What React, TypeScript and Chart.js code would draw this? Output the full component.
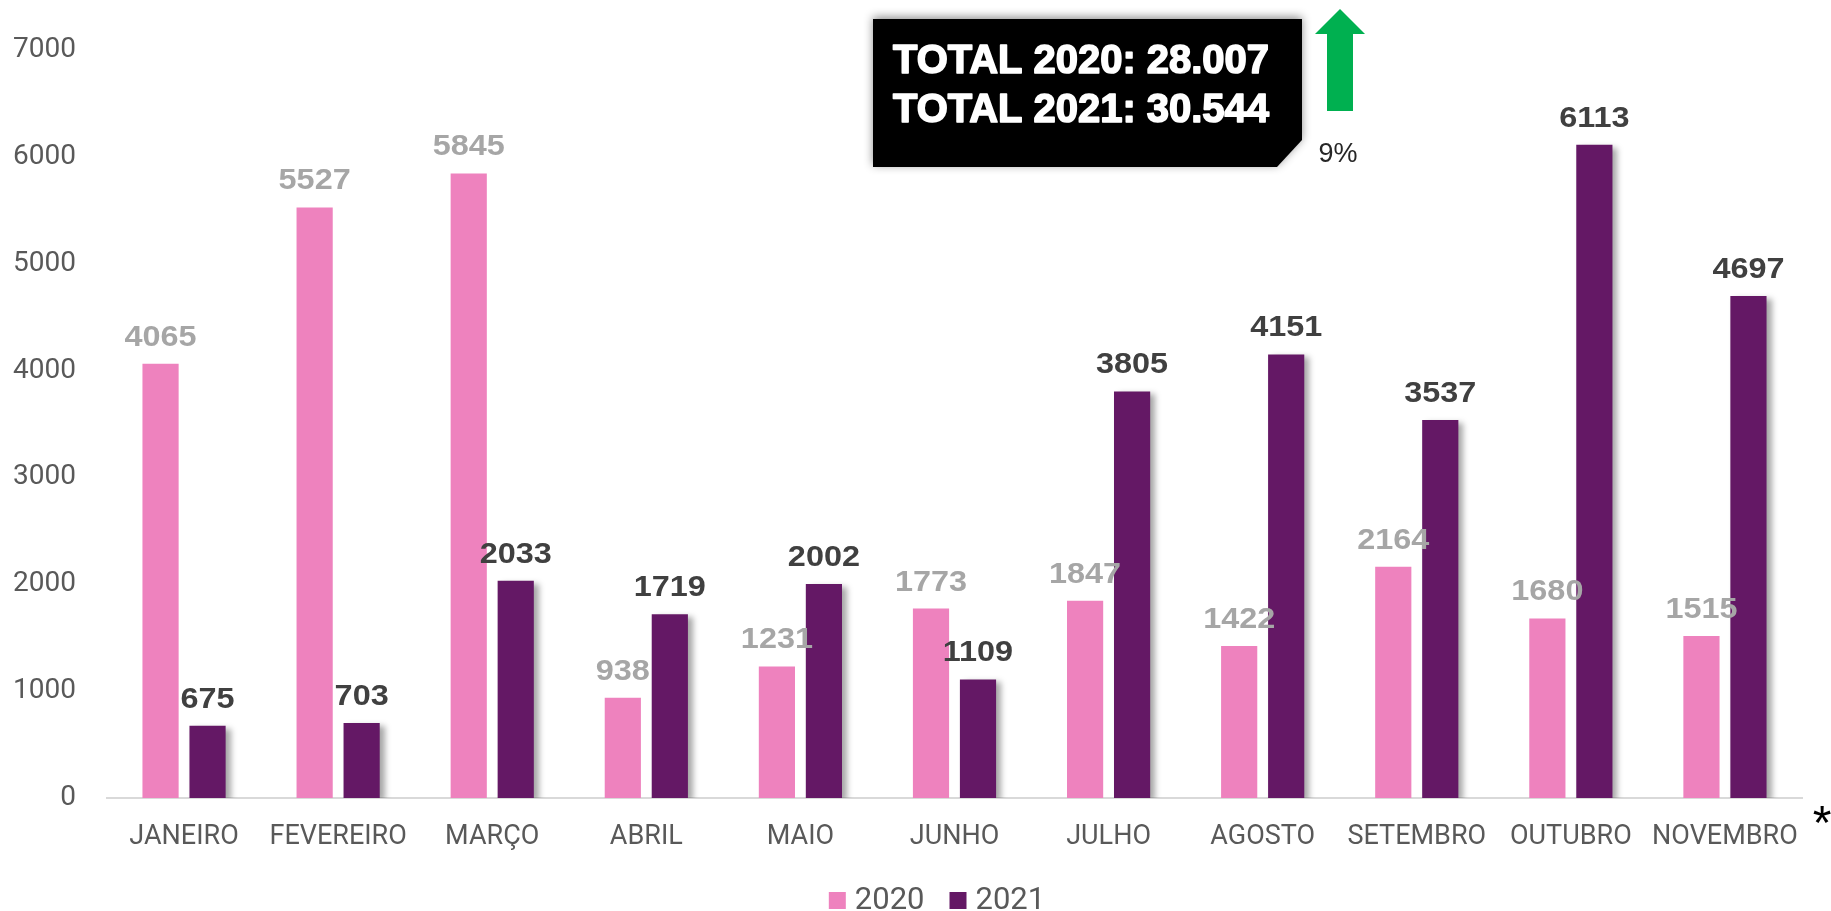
import React, { useEffect, useRef } from "react";
import { Chart, registerables } from "chart.js";

Chart.register(...registerables);

const categories = [
  "JANEIRO", "FEVEREIRO", "MARÇO", "ABRIL", "MAIO", "JUNHO",
  "JULHO", "AGOSTO", "SETEMBRO", "OUTUBRO", "NOVEMBRO",
];
const values2020 = [4065, 5527, 5845, 938, 1231, 1773, 1847, 1422, 2164, 1680, 1515];
const values2021 = [675, 703, 2033, 1719, 2002, 1109, 3805, 4151, 3537, 6113, 4697];
const seriesLabels = ["2020", "2021"];
const yTicks = [0, 1000, 2000, 3000, 4000, 5000, 6000, 7000];

const PINK = "#EE82BE";
const PURPLE = "#641865";

const fmt = (n: number) => String(n).replace(/\B(?=(\d{3})+(?!\d))/g, ".");
const sum = (a: number[]) => a.reduce((x, y) => x + y, 0);

const shadowPlugin = {
  id: "barShadow",
  beforeDatasetDraw(chart: any, args: any) {
    if (args.index !== 1) return;
    const ctx = chart.ctx;
    ctx.save();
    ctx.shadowColor = "rgba(0,0,0,0.35)";
    ctx.shadowBlur = 6;
    ctx.shadowOffsetX = 5;
    ctx.shadowOffsetY = 3;
  },
  afterDatasetDraw(chart: any, args: any) {
    if (args.index !== 1) return;
    chart.ctx.restore();
  },
};

const labelPlugin = {
  id: "valueLabels",
  afterDatasetsDraw(chart: any) {
    const ctx = chart.ctx;
    const colors = ["#A6A6A6", "#404040"];
    chart.data.datasets.forEach((ds: any, di: number) => {
      const meta = chart.getDatasetMeta(di);
      meta.data.forEach((el: any, i: number) => {
        ctx.save();
        ctx.font = "bold 30px 'Liberation Sans', Arial, sans-serif";
        ctx.fillStyle = colors[di];
        ctx.textAlign = "center";
        ctx.textBaseline = "alphabetic";
        ctx.translate(el.x, el.y - 18);
        ctx.scale(1.08, 1);
        ctx.fillText(String(ds.data[i]), 0, 0);
        ctx.restore();
      });
    });
  },
};

const legendPlugin = {
  id: "customLegend",
  afterDraw(chart: any) {
    const ctx = chart.ctx;
    ctx.save();
    ctx.font = "31px Roboto, 'Liberation Sans', sans-serif";
    ctx.textBaseline = "middle";
    ctx.textAlign = "left";
    const box = 17;
    const gap = 9;
    const spacing = 25;
    const items = chart.data.datasets.map((ds: any) => ({
      label: ds.label,
      color: ds.backgroundColor,
      w: ctx.measureText(ds.label).width,
    }));
    const total = items.reduce((s: number, it: any, i: number) => s + box + gap + it.w + (i > 0 ? spacing : 0), 0);
    let x = 937 - total / 2;
    const cy = 900.5;
    items.forEach((it: any) => {
      ctx.fillStyle = it.color;
      ctx.fillRect(x, cy - box / 2, box, box);
      ctx.fillStyle = "#595959";
      ctx.fillText(it.label, x + box + gap, cy + 1);
      x += box + gap + it.w + spacing;
    });
    ctx.restore();
  },
};

const annotationPlugin = {
  id: "totalsBox",
  afterDraw(chart: any) {
    const ctx = chart.ctx;
    const t20 = sum(values2020);
    const t21 = sum(values2021);
    const pct = Math.round((t21 / t20 - 1) * 100);

    ctx.save();
    ctx.shadowColor = "rgba(0,0,0,0.45)";
    ctx.shadowBlur = 10;
    ctx.shadowOffsetX = 0;
    ctx.shadowOffsetY = -2;
    ctx.fillStyle = "#000000";
    ctx.beginPath();
    ctx.moveTo(873, 19);
    ctx.lineTo(1302, 19);
    ctx.lineTo(1302, 140);
    ctx.lineTo(1277, 167);
    ctx.lineTo(873, 167);
    ctx.closePath();
    ctx.fill();
    ctx.restore();

    ctx.save();
    ctx.fillStyle = "#FFFFFF";
    ctx.strokeStyle = "#FFFFFF";
    ctx.lineWidth = 1.6;
    ctx.lineJoin = "round";
    ctx.font = "bold 40px 'Liberation Sans', Arial, sans-serif";
    ctx.textAlign = "left";
    ctx.textBaseline = "alphabetic";
    const l1 = `TOTAL 2020: ${fmt(t20)}`;
    const l2 = `TOTAL 2021: ${fmt(t21)}`;
    ctx.fillText(l1, 893, 73, 376);
    ctx.strokeText(l1, 893, 73, 376);
    ctx.fillText(l2, 893, 122, 376);
    ctx.strokeText(l2, 893, 122, 376);
    ctx.restore();

    ctx.save();
    ctx.fillStyle = "#00B050";
    ctx.beginPath();
    ctx.moveTo(1340, 9);
    ctx.lineTo(1365, 34);
    ctx.lineTo(1353, 34);
    ctx.lineTo(1353, 111);
    ctx.lineTo(1327, 111);
    ctx.lineTo(1327, 34);
    ctx.lineTo(1315, 34);
    ctx.closePath();
    ctx.fill();
    ctx.restore();

    ctx.save();
    ctx.fillStyle = "#262626";
    ctx.font = "27px 'Liberation Sans', Arial, sans-serif";
    ctx.textAlign = "center";
    ctx.textBaseline = "alphabetic";
    ctx.fillText(`${pct}%`, 1338, 162);
    ctx.restore();

    ctx.save();
    ctx.fillStyle = "#000000";
    ctx.font = "48px 'Liberation Sans', Arial, sans-serif";
    ctx.textAlign = "center";
    ctx.textBaseline = "alphabetic";
    ctx.fillText("*", 1822, 839);
    ctx.restore();
  },
};

export default function App() {
  const ref = useRef<HTMLCanvasElement | null>(null);

  useEffect(() => {
    if (!ref.current) return;
    const chart = new Chart(ref.current, {
      type: "bar",
      data: {
        labels: categories,
        datasets: [
          {
            label: seriesLabels[0],
            data: values2020,
            backgroundColor: PINK,
            categoryPercentage: 0.61,
            barPercentage: 0.77,
          },
          {
            label: seriesLabels[1],
            data: values2021,
            backgroundColor: PURPLE,
            categoryPercentage: 0.61,
            barPercentage: 0.77,
          },
        ],
      },
      options: {
        animation: false,
        responsive: false,
        maintainAspectRatio: false,
        layout: { padding: { top: 50, right: 29, bottom: 0, left: 0 } },
        plugins: {
          legend: { display: false },
          tooltip: { enabled: false },
        },
        scales: {
          x: {
            grid: { display: false },
            border: { display: true, color: "#D9D9D9", width: 2 },
            ticks: {
              color: "#595959",
              padding: 15,
              maxRotation: 0,
              autoSkip: false,
              font: { family: "Roboto, 'Liberation Sans', sans-serif", size: 27 },
            },
            afterFit: (scale: any) => {
              scale.height = 113;
            },
          },
          y: {
            min: 0,
            max: 7000,
            grid: { display: false, drawTicks: false },
            border: { display: false },
            afterBuildTicks: (scale: any) => {
              scale.ticks = yTicks.map((v) => ({ value: v }));
            },
            ticks: {
              color: "#595959",
              padding: 31,
              callback: (v: any) => String(v),
              font: { family: "Roboto, 'Liberation Sans', sans-serif", size: 28 },
            },
            afterFit: (scale: any) => {
              scale.width = 107;
            },
          },
        },
      },
      plugins: [shadowPlugin, labelPlugin, legendPlugin, annotationPlugin],
    });
    return () => chart.destroy();
  }, []);

  return (
    <div
      style={{
        position: "fixed",
        left: 0,
        top: 0,
        width: 1831,
        height: 911,
        overflow: "hidden",
        background: "#FFFFFF",
      }}
    >
      <canvas ref={ref} width={1831} height={911} style={{ width: 1831, height: 911, display: "block" }} />
    </div>
  );
}
